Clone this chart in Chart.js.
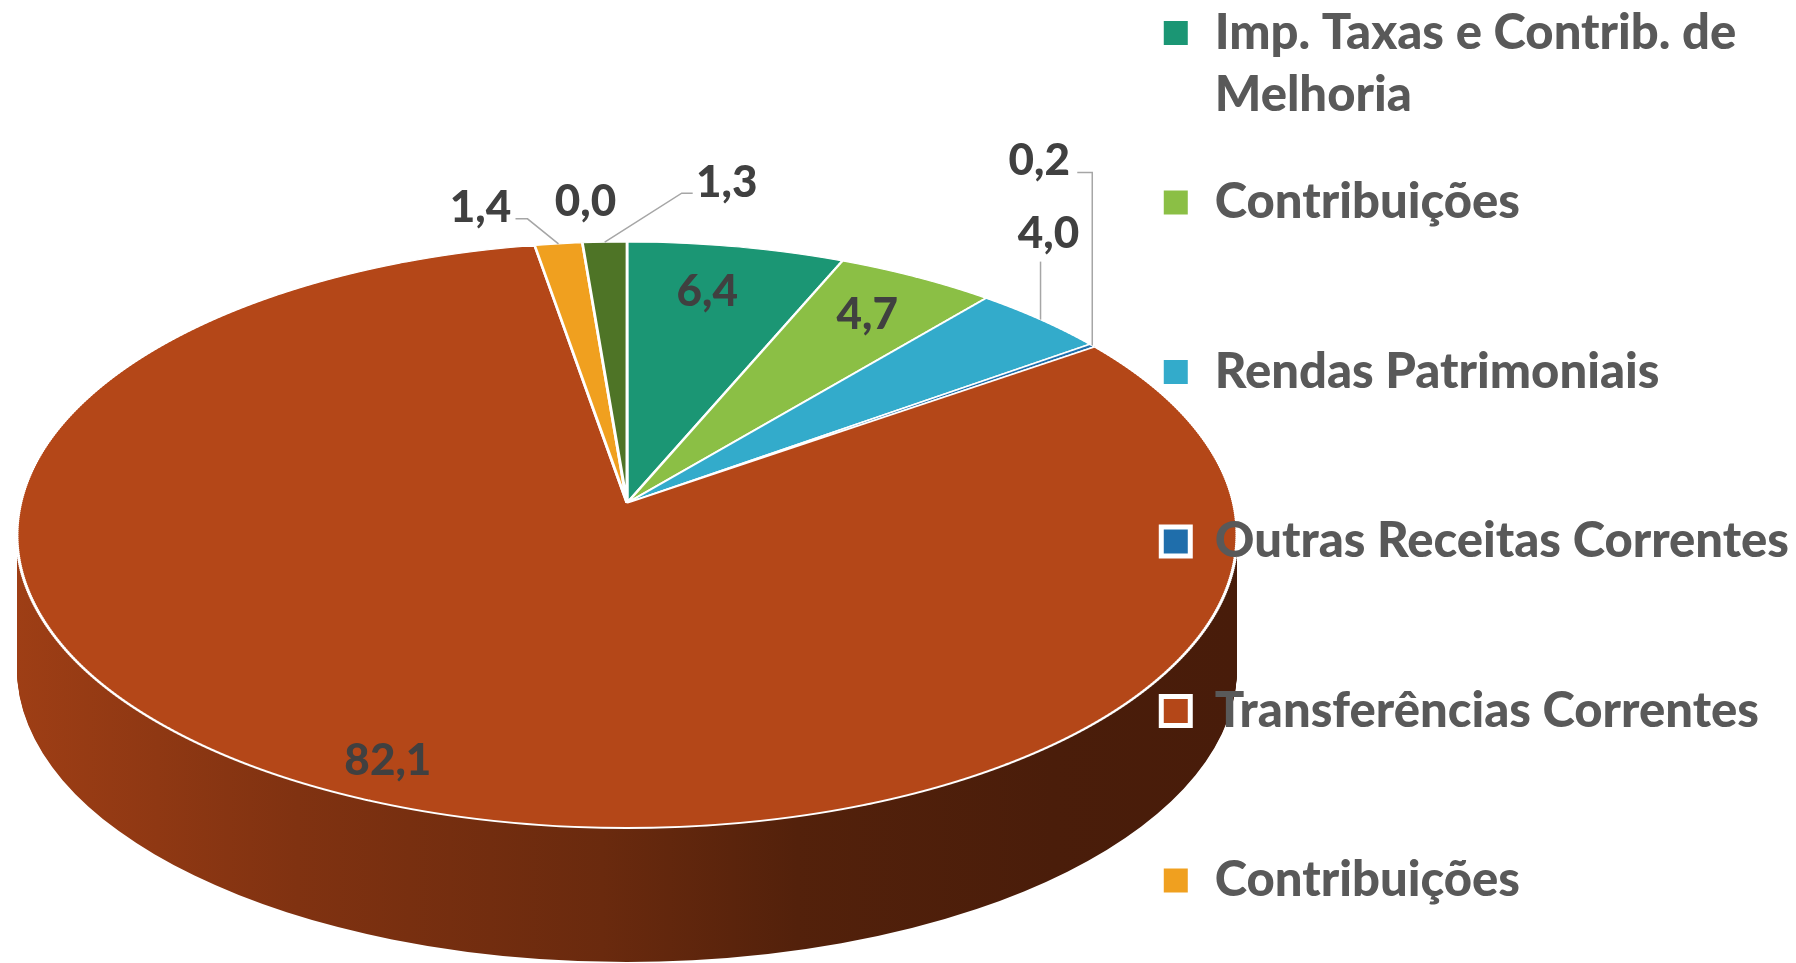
<!DOCTYPE html>
<html>
<head>
<meta charset="utf-8">
<script src="https://cdn.jsdelivr.net/npm/chart.js@4.4.1/dist/chart.umd.min.js"></script>
<style>
  html, body { margin: 0; padding: 0; background: #ffffff; overflow: hidden; }
  #wrap { width: 1796px; height: 963px; position: relative; }
  canvas { display: block; }
</style>
</head>
<body>
<div id="wrap"><canvas id="c" width="1796" height="963"></canvas></div>
<script>
// ---------------- data ----------------
const categories = [
  "Imp. Taxas e Contrib. de Melhoria",
  "Contribuições",
  "Rendas Patrimoniais",
  "Outras Receitas Correntes",
  "Transferências Correntes",
  "Contribuições",
  "Receita Agropecuária",   // not visible in the (cut-off) legend of the reference
  "Receita de Serviços"     // not visible in the (cut-off) legend of the reference
];
const values = [6.4, 4.7, 4.0, 0.2, 82.1, 1.4, 0.0, 1.3];
const colors = ["#1b9674", "#8bbf45", "#33abcb", "#1f6eab", "#b44718", "#f0a01f", "#7f7f7f", "#4e7426"];
const legendShown = 6;   // the reference legend only shows the first six entries

// ---------------- view / style settings ----------------
// tilted (perspective) pie: centre of the pie, far rim, near rim, half width, side depth
const view = { cx: 627, apexY: 503, farY: 242, nearY: 828, rx: 610, depth: 134, band: 2 };
const sideShade = [[0, 0.88], [0.23, 0.71], [0.48, 0.59], [0.64, 0.46], [0.85, 0.41], [1, 0.40]];
const labelFont = { family: "Lato", size: 44, weight: "900", color: "#404040" };
const legendFont = { family: "Lato", size: 49, weight: "900", lineHeightPx: 62, color: "#595959" };
const leaderColor = "#a6a6a6";
const labelPlacement = [
  { mode: "in", r: 0.85, dx: -14, dy: 8 },
  { mode: "in", r: 0.85, dx: -9, dy: 5 },
  { mode: "out", at: 0.5, dx: 8, dy: -87, leader: [[-8, 29]] },
  { mode: "out", at: 0.5, dx: -53, dy: -186, leader: [[53, 13], [38, 13]] },
  { mode: "in", r: 0.85, dx: -22, dy: 8 },
  { mode: "out", at: 0.5, dx: -78, dy: -38, leader: [[47, 13], [35, 13]] },
  { mode: "out", at: 0.5, dx: 3, dy: -43, leader: null },
  { mode: "out", at: 0.5, dx: 122, dy: -61, leader: [[-45, 12], [-34, 12]] }
];

// ---------------- perspective geometry ----------------
const T = view.apexY - view.farY, B = view.nearY - view.apexY;
const persp = (T - B) / (T + B);            // perspective factor
const bY = T * (1 - persp);
const aX = view.rx * Math.sqrt(1 - persp * persp);
const outline = { cy: (view.farY + view.nearY) / 2, ry: (view.nearY - view.farY) / 2 };

function project(angle, f) {
  const u = f * Math.cos(angle), v = f * Math.sin(angle);
  const w = 1 + persp * v;
  return { x: view.cx + aX * u / w, y: view.apexY + bY * v / w };
}

// ---------------- helpers ----------------
function shade(hex, f) {
  const n = parseInt(hex.slice(1), 16);
  const r = Math.round(((n >> 16) & 255) * f), g = Math.round(((n >> 8) & 255) * f), b = Math.round((n & 255) * f);
  return `rgb(${r},${g},${b})`;
}
function fmt(v) { return v.toFixed(1).replace(".", ","); }
function wrapText(text, maxWidth, font) {
  const c = document.createElement("canvas").getContext("2d");
  c.font = font;
  const words = text.split(" ");
  const lines = [];
  let cur = "";
  words.forEach(w => {
    const t = cur ? cur + " " + w : w;
    if (cur && c.measureText(t).width > maxWidth) { lines.push(cur); cur = w; } else { cur = t; }
  });
  if (cur) lines.push(cur);
  return lines;
}

// ---------------- plugins ----------------
const legendOnTop = {
  id: "legendOnTop",
  beforeLayout(chart) {
    const lg = chart.legend;
    if (lg && !lg.__onTop) {
      lg._layers = () => [{ z: 1, draw: (area) => lg.draw(area) }];
      lg.__onTop = true;
    }
  }
};

const tiltedPie = {
  id: "tiltedPie",
  beforeDatasetsDraw(chart) {
    const ctx = chart.ctx;
    const meta = chart.getDatasetMeta(0);
    const arcs = meta.data;
    if (!arcs.length) return;
    const a0 = arcs[0];
    const r = a0.outerRadius;

    // 1) side wall: the pie outline extruded downwards
    const fills = arcs.map((arc, i) => {
      const g = ctx.createLinearGradient(a0.x - r, 0, a0.x + r, 0);
      sideShade.forEach(([t, f]) => g.addColorStop(t, shade(colors[i], f)));
      return g;
    });
    for (let d = view.depth; d >= 1; d--) {
      ctx.save();
      ctx.translate(view.cx, outline.cy + d);
      ctx.scale(view.rx / r, outline.ry / r);
      ctx.translate(-a0.x, -a0.y);
      arcs.forEach((arc, i) => {
        const o = arc.options;
        arc.options = Object.assign({}, o, { backgroundColor: fills[i], borderWidth: 0 });
        arc.draw(ctx);
        arc.options = o;
      });
      ctx.restore();
    }

    // 2) top surface in perspective, drawn by the controller in thin horizontal bands
    const W = chart.width;
    for (let y0 = Math.floor(view.farY) - 4; y0 < view.nearY + 4; y0 += view.band) {
      const yc = y0 + view.band / 2;
      const dy = yc - view.apexY;
      const v = dy / (bY - persp * dy);
      const w = 1 + persp * v;
      const sy = bY / (w * w);
      ctx.save();
      ctx.beginPath();
      ctx.rect(0, y0, W, view.band);
      ctx.clip();
      ctx.translate(view.cx, yc - sy * v);
      ctx.scale(aX / w / r, sy / r);
      ctx.translate(-a0.x, -a0.y);
      meta.controller.draw();
      ctx.restore();
    }

    // 3) data labels
    ctx.save();
    ctx.font = `${labelFont.weight} ${labelFont.size}px ${labelFont.family}`;
    ctx.textAlign = "center";
    ctx.textBaseline = "alphabetic";
    const capShift = labelFont.size * 0.36;
    arcs.forEach((arc, i) => {
      const p = labelPlacement[i];
      const text = fmt(values[i]);
      let lx, ly;
      if (p.mode === "in") {
        const q = project((arc.startAngle + arc.endAngle) / 2, p.r);
        lx = q.x + (p.dx || 0); ly = q.y + (p.dy || 0);
      } else {
        const a = arc.startAngle + (arc.endAngle - arc.startAngle) * p.at;
        const anc = project(a, 1);
        lx = anc.x + p.dx; ly = anc.y + p.dy;
        if (p.leader) {
          ctx.strokeStyle = leaderColor;
          ctx.lineWidth = 1.5;
          ctx.beginPath();
          ctx.moveTo(anc.x, anc.y);
          p.leader.forEach(([ox, oy]) => ctx.lineTo(lx + ox, ly + oy));
          ctx.stroke();
        }
      }
      ctx.fillStyle = labelFont.color;
      ctx.fillText(text, lx, ly + capShift);
    });
    ctx.restore();
    return false;   // the pie has been drawn above
  }
};

const legendFontStr = `${legendFont.weight} ${legendFont.size}px ${legendFont.family}`;
const legendPadding = 45.5;

new Chart(document.getElementById("c"), {
  type: "pie",
  data: {
    labels: categories,
    datasets: [{
      data: values,
      backgroundColor: colors,
      borderColor: "#ffffff",
      borderWidth: 2.4,
      clip: false
    }]
  },
  options: {
    responsive: false,
    devicePixelRatio: 1,
    animation: false,
    events: [],
    layout: { padding: { top: 33 - legendFont.size / 2 - legendPadding, right: -3, bottom: 0, left: 0 } },
    plugins: {
      tooltip: { enabled: false },
      legend: {
        position: "right",
        align: "start",
        labels: {
          boxWidth: 29,
          boxHeight: 29,
          padding: legendPadding,
          color: legendFont.color,
          font: { family: legendFont.family, size: legendFont.size, weight: legendFont.weight, lineHeight: legendFont.lineHeightPx / legendFont.size },
          generateLabels(chart) {
            return categories.slice(0, legendShown).map((c, i) => {
              let lines = wrapText(c, 630, legendFontStr);
              // every entry occupies two text lines so that all entries are evenly spaced
              if (lines.length === 1 && i < legendShown - 1) lines = [lines[0], ""];
              return {
                text: lines.length === 1 ? lines[0] : lines,
                fillStyle: colors[i],
                strokeStyle: "#ffffff",
                lineWidth: 5,
                fontColor: legendFont.color,
                hidden: false,
                index: i
              };
            });
          }
        }
      }
    }
  },
  plugins: [legendOnTop, tiltedPie]
});
</script>
</body>
</html>
